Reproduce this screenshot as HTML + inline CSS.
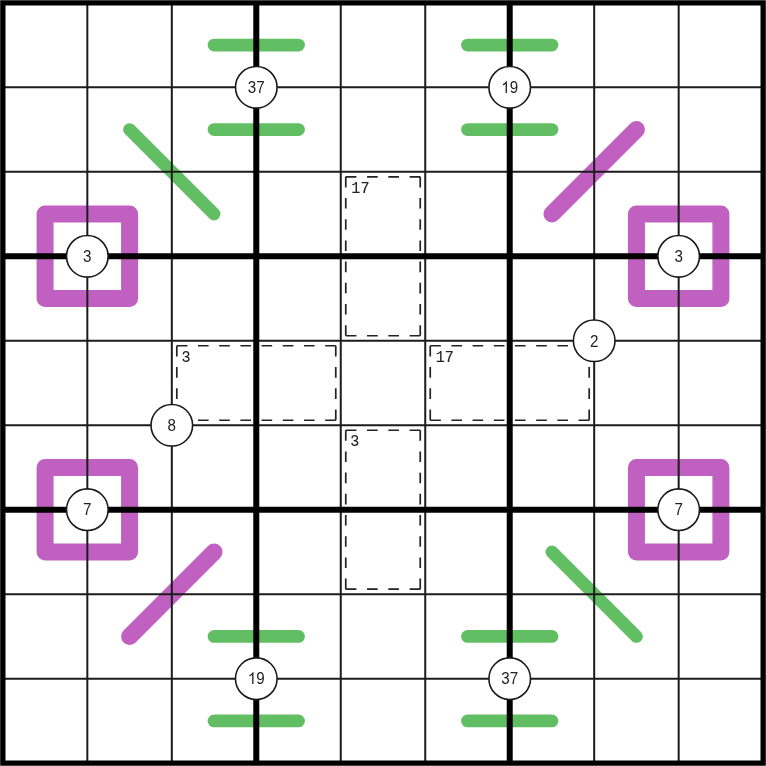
<!DOCTYPE html><html><head><meta charset="utf-8"><style>html,body{margin:0;padding:0;background:#fff;}svg{display:block;will-change:transform;}</style></head><body>
<svg width="766" height="766" viewBox="0 0 766 766">
<rect x="0" y="0" width="766" height="766" fill="#fff"/>
<line x1="214.04" y1="45.09" x2="298.52" y2="45.09" stroke="#62be62" stroke-width="12.8" stroke-linecap="round"/>
<line x1="214.04" y1="129.57" x2="298.52" y2="129.57" stroke="#62be62" stroke-width="12.8" stroke-linecap="round"/>
<line x1="214.04" y1="636.43" x2="298.52" y2="636.43" stroke="#62be62" stroke-width="12.8" stroke-linecap="round"/>
<line x1="214.04" y1="720.91" x2="298.52" y2="720.91" stroke="#62be62" stroke-width="12.8" stroke-linecap="round"/>
<line x1="467.48" y1="45.09" x2="551.96" y2="45.09" stroke="#62be62" stroke-width="12.8" stroke-linecap="round"/>
<line x1="467.48" y1="129.57" x2="551.96" y2="129.57" stroke="#62be62" stroke-width="12.8" stroke-linecap="round"/>
<line x1="467.48" y1="636.43" x2="551.96" y2="636.43" stroke="#62be62" stroke-width="12.8" stroke-linecap="round"/>
<line x1="467.48" y1="720.91" x2="551.96" y2="720.91" stroke="#62be62" stroke-width="12.8" stroke-linecap="round"/>
<line x1="129.57" y1="129.57" x2="214.04" y2="214.04" stroke="#62be62" stroke-width="12.8" stroke-linecap="round"/>
<line x1="551.96" y1="551.96" x2="636.43" y2="636.43" stroke="#62be62" stroke-width="12.8" stroke-linecap="round"/>
<line x1="551.96" y1="214.04" x2="636.43" y2="129.57" stroke="#c060c0" stroke-width="17.0" stroke-linecap="round"/>
<line x1="129.57" y1="636.43" x2="214.04" y2="551.96" stroke="#c060c0" stroke-width="17.0" stroke-linecap="round"/>
<path d="M45.09 214.04H129.57V298.52H45.09Z" fill="none" stroke="#c060c0" stroke-width="17.0" stroke-linejoin="round"/>
<path d="M636.43 214.04H720.91V298.52H636.43Z" fill="none" stroke="#c060c0" stroke-width="17.0" stroke-linejoin="round"/>
<path d="M45.09 467.48H129.57V551.96H45.09Z" fill="none" stroke="#c060c0" stroke-width="17.0" stroke-linejoin="round"/>
<path d="M636.43 467.48H720.91V551.96H636.43Z" fill="none" stroke="#c060c0" stroke-width="17.0" stroke-linejoin="round"/>
<path d="M87.33 2.85V763.15M2.85 87.33H763.15M171.81 2.85V763.15M2.85 171.81H763.15M340.76 2.85V763.15M2.85 340.76H763.15M425.24 2.85V763.15M2.85 425.24H763.15M594.19 2.85V763.15M2.85 594.19H763.15M678.67 2.85V763.15M2.85 678.67H763.15" stroke="#1c1c1c" stroke-width="2.0" fill="none"/>
<path d="M256.28 2.85V763.15M2.85 256.28H763.15M509.72 2.85V763.15M2.85 509.72H763.15" stroke="#000" stroke-width="6.0" fill="none"/>
<path fill-rule="evenodd" fill="#000" d="M0.2 0.2H765.8V765.8H0.2ZM5.5 5.5V760.5H760.5V5.5Z"/>
<line x1="345.76" y1="176.81" x2="420.24" y2="176.81" stroke="#222" stroke-width="1.7" stroke-dasharray="10.640 10.640"/>
<line x1="420.24" y1="176.81" x2="420.24" y2="335.76" stroke="#222" stroke-width="1.7" stroke-dasharray="10.597 10.597"/>
<line x1="420.24" y1="335.76" x2="345.76" y2="335.76" stroke="#222" stroke-width="1.7" stroke-dasharray="10.640 10.640"/>
<line x1="345.76" y1="335.76" x2="345.76" y2="176.81" stroke="#222" stroke-width="1.7" stroke-dasharray="10.597 10.597"/>
<text transform="translate(351.36 193.41) scale(0.93 1)" font-family="Liberation Mono, monospace" font-size="16.2" fill="#222" stroke="#222" stroke-width="0.12">17</text>
<line x1="176.81" y1="345.76" x2="335.76" y2="345.76" stroke="#222" stroke-width="1.7" stroke-dasharray="10.597 10.597"/>
<line x1="335.76" y1="345.76" x2="335.76" y2="420.24" stroke="#222" stroke-width="1.7" stroke-dasharray="10.640 10.640"/>
<line x1="335.76" y1="420.24" x2="176.81" y2="420.24" stroke="#222" stroke-width="1.7" stroke-dasharray="10.597 10.597"/>
<line x1="176.81" y1="420.24" x2="176.81" y2="345.76" stroke="#222" stroke-width="1.7" stroke-dasharray="10.640 10.640"/>
<text transform="translate(181.41 362.06) scale(0.93 1)" font-family="Liberation Mono, monospace" font-size="16.2" fill="#222" stroke="#222" stroke-width="0.12">3</text>
<line x1="430.24" y1="345.76" x2="589.19" y2="345.76" stroke="#222" stroke-width="1.7" stroke-dasharray="10.597 10.597"/>
<line x1="589.19" y1="345.76" x2="589.19" y2="420.24" stroke="#222" stroke-width="1.7" stroke-dasharray="10.640 10.640"/>
<line x1="589.19" y1="420.24" x2="430.24" y2="420.24" stroke="#222" stroke-width="1.7" stroke-dasharray="10.597 10.597"/>
<line x1="430.24" y1="420.24" x2="430.24" y2="345.76" stroke="#222" stroke-width="1.7" stroke-dasharray="10.640 10.640"/>
<text transform="translate(435.84 362.36) scale(0.93 1)" font-family="Liberation Mono, monospace" font-size="16.2" fill="#222" stroke="#222" stroke-width="0.12">17</text>
<line x1="345.76" y1="430.24" x2="420.24" y2="430.24" stroke="#222" stroke-width="1.7" stroke-dasharray="10.640 10.640"/>
<line x1="420.24" y1="430.24" x2="420.24" y2="589.19" stroke="#222" stroke-width="1.7" stroke-dasharray="10.597 10.597"/>
<line x1="420.24" y1="589.19" x2="345.76" y2="589.19" stroke="#222" stroke-width="1.7" stroke-dasharray="10.640 10.640"/>
<line x1="345.76" y1="589.19" x2="345.76" y2="430.24" stroke="#222" stroke-width="1.7" stroke-dasharray="10.597 10.597"/>
<text transform="translate(350.36 445.54) scale(0.93 1)" font-family="Liberation Mono, monospace" font-size="16.2" fill="#222" stroke="#222" stroke-width="0.12">3</text>
<circle cx="256.28" cy="87.33" r="20.8" fill="#fff" stroke="#1a1a1a" stroke-width="1.6"/>
<text transform="translate(247.841 93) scale(0.92 1)" font-family="Liberation Sans, sans-serif" font-size="16.5" fill="#222">3</text>
<text transform="translate(256.283 93) scale(0.92 1)" font-family="Liberation Sans, sans-serif" font-size="16.5" fill="#222">7</text>
<circle cx="509.72" cy="87.33" r="20.8" fill="#fff" stroke="#1a1a1a" stroke-width="1.6"/>
<path transform="translate(501.274 93) scale(0.007412 -0.008057)" fill="#222" d="M763 0H583V1147Q518 1085 412.5 1023T223 930V1104Q374 1175 487 1276T647 1472H763Z"/>
<text transform="translate(509.717 93) scale(0.92 1)" font-family="Liberation Sans, sans-serif" font-size="16.5" fill="#222">9</text>
<circle cx="87.33" cy="256.28" r="20.8" fill="#fff" stroke="#1a1a1a" stroke-width="1.6"/>
<text transform="translate(83.107 262) scale(0.92 1)" font-family="Liberation Sans, sans-serif" font-size="16.5" fill="#222">3</text>
<circle cx="678.67" cy="256.28" r="20.8" fill="#fff" stroke="#1a1a1a" stroke-width="1.6"/>
<text transform="translate(674.451 262) scale(0.92 1)" font-family="Liberation Sans, sans-serif" font-size="16.5" fill="#222">3</text>
<circle cx="594.19" cy="340.76" r="20.8" fill="#fff" stroke="#1a1a1a" stroke-width="1.6"/>
<text transform="translate(589.973 347) scale(0.92 1)" font-family="Liberation Sans, sans-serif" font-size="16.5" fill="#222">2</text>
<circle cx="171.81" cy="425.24" r="20.8" fill="#fff" stroke="#1a1a1a" stroke-width="1.6"/>
<text transform="translate(167.584 431) scale(0.92 1)" font-family="Liberation Sans, sans-serif" font-size="16.5" fill="#222">8</text>
<circle cx="87.33" cy="509.72" r="20.8" fill="#fff" stroke="#1a1a1a" stroke-width="1.6"/>
<text transform="translate(83.107 515) scale(0.92 1)" font-family="Liberation Sans, sans-serif" font-size="16.5" fill="#222">7</text>
<circle cx="678.67" cy="509.72" r="20.8" fill="#fff" stroke="#1a1a1a" stroke-width="1.6"/>
<text transform="translate(674.451 515) scale(0.92 1)" font-family="Liberation Sans, sans-serif" font-size="16.5" fill="#222">7</text>
<circle cx="256.28" cy="678.67" r="20.8" fill="#fff" stroke="#1a1a1a" stroke-width="1.6"/>
<path transform="translate(247.841 684) scale(0.007412 -0.008057)" fill="#222" d="M763 0H583V1147Q518 1085 412.5 1023T223 930V1104Q374 1175 487 1276T647 1472H763Z"/>
<text transform="translate(256.283 684) scale(0.92 1)" font-family="Liberation Sans, sans-serif" font-size="16.5" fill="#222">9</text>
<circle cx="509.72" cy="678.67" r="20.8" fill="#fff" stroke="#1a1a1a" stroke-width="1.6"/>
<text transform="translate(501.274 684) scale(0.92 1)" font-family="Liberation Sans, sans-serif" font-size="16.5" fill="#222">3</text>
<text transform="translate(509.717 684) scale(0.92 1)" font-family="Liberation Sans, sans-serif" font-size="16.5" fill="#222">7</text>
</svg></body></html>
